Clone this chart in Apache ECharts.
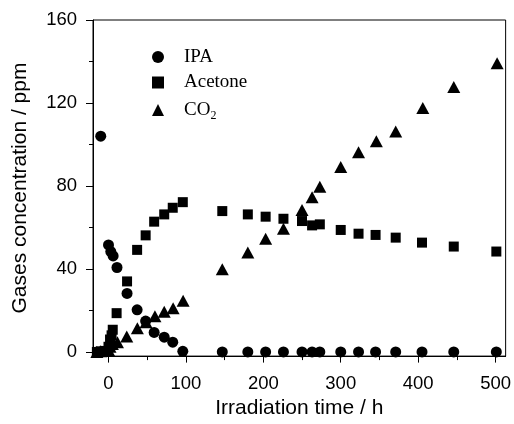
<!DOCTYPE html>
<html>
<head>
<meta charset="utf-8">
<script src="https://cdn.jsdelivr.net/npm/echarts@6/dist/echarts.min.js"></script>
<style>html,body{margin:0;padding:0;background:#fff}#c{width:514px;height:424px}</style>
</head>
<body>
<div id="c"></div>
<script>
// ---- data ----
const ipaTime = [-10, 0, 3, 6, 11, 24, 37, 48, 59, 72, 83, 96, 147, 180, 203, 226, 250, 263, 273, 300, 323, 345, 371, 405, 446, 501];
const ipaConc = [104, 51.6, 48.4, 46.3, 40.7, 28.2, 20.3, 14.9, 9.4, 7.1, 4.7, 0.3, 0, 0, 0, 0, 0, 0, 0, 0, 0, 0, 0, 0, 0, 0];

const acetoneTime = [-15, -10, -5, 0, 2, 4, 5.5, 10.5, 24, 37, 48, 59, 72, 83, 96, 147, 180, 203, 226, 250, 263, 273, 300, 323, 345, 371, 405, 446, 501];
const acetoneConc = [0, 0.3, 0.5, 2.5, 6, 8, 10.7, 18.7, 34, 49.2, 56.2, 62.8, 66.3, 69.5, 72.2, 67.9, 66.3, 65.2, 64.2, 63.1, 61, 61.5, 58.8, 57, 56.4, 55.1, 52.7, 50.8, 48.4];

const co2Time = [-15, -10, -5, 0, 2, 5, 11.6, 23.6, 37.3, 48.5, 60, 72, 83.5, 96.4, 147, 180, 203, 226, 250, 263, 273, 300, 323, 346, 371, 406, 446, 502];
const co2Conc = [0, 0.3, 0.5, 1, 2.5, 3.8, 4.7, 7.5, 11.4, 14.3, 17.2, 19.4, 21.1, 24.7, 39.9, 47.9, 54.6, 59.4, 68.4, 74.6, 79.6, 89.2, 96.3, 101.5, 106.3, 117.6, 127.7, 139.2];

const xMajorTicks = [0, 100, 200, 300, 400, 500];
const xMinorTicks = [50, 150, 250, 350, 450];
const yMajorTicks = [0, 40, 80, 120, 160];
const yMinorTicks = [20, 60, 100, 140];

const seriesNames = ['IPA', 'Acetone', 'CO2'];

const zip = (a, b) => a.map((v, i) => [v, b[i]]);

const chart = echarts.init(document.getElementById('c'), null, {renderer: 'canvas'});
const sans = 'Liberation Sans, Arial, sans-serif';
const serif = 'Liberation Serif, Times New Roman, serif';

const option = {
  backgroundColor: '#fff',
  animation: false,
  grid: {left: 93, right: 6, top: 20, bottom: 67, show: true, borderColor: '#000', borderWidth: 1, backgroundColor: 'transparent'},
  legend: {
    orient: 'vertical', left: 147, top: 42,
    itemWidth: 12, itemHeight: 12, itemGap: 5.5,
    data: [
      {name: 'IPA', icon: 'circle'},
      {name: 'Acetone', icon: 'rect'},
      {name: 'CO2', icon: 'triangle'}
    ],
    formatter: function (n) { return n === 'CO2' ? '{n|CO}{s|2}' : '{n|' + n + '}'; },
    textStyle: {
      color: '#000', fontFamily: serif, fontSize: 19, lineHeight: 20, padding: [0, 0, 0, 15],
      rich: {
        n: {fontFamily: serif, fontSize: 19, color: '#000', lineHeight: 20},
        s: {fontFamily: serif, fontSize: 12, color: '#000', lineHeight: 20, padding: [12, 0, 0, 0]}
      }
    }
  },
  xAxis: [
    {
      type: 'value', min: -20, max: 513, splitLine: {show: false},
      axisLine: {show: true, onZero: false, lineStyle: {color: '#000', width: 1}},
      name: 'Irradiation time / h', nameLocation: 'middle', nameGap: 40,
      nameTextStyle: {fontFamily: sans, fontSize: 21, color: '#000'},
      axisTick: {show: true, inside: false, length: 6.5, customValues: xMajorTicks, lineStyle: {color: '#000'}},
      axisLabel: {show: true, customValues: xMajorTicks, margin: 18, fontFamily: sans, fontSize: 18.5, color: '#000'}
    },
    {
      type: 'value', min: -20, max: 513, position: 'bottom', splitLine: {show: false},
      axisLine: {show: false, onZero: false},
      axisTick: {show: true, inside: false, length: 4, customValues: xMinorTicks, lineStyle: {color: '#000'}},
      axisLabel: {show: false}
    }
  ],
  yAxis: [
    {
      type: 'value', min: -2, max: 160, splitLine: {show: false},
      axisLine: {show: true, onZero: false, lineStyle: {color: '#000', width: 1}},
      name: 'Gases concentration / ppm', nameLocation: 'middle', nameGap: 62, nameRotate: 90,
      nameTextStyle: {fontFamily: sans, fontSize: 21, color: '#000'},
      axisTick: {show: true, inside: false, length: 7, customValues: yMajorTicks, lineStyle: {color: '#000'}},
      axisLabel: {show: true, customValues: yMajorTicks, margin: 16, fontFamily: sans, fontSize: 18.5, color: '#000'}
    },
    {
      type: 'value', min: -2, max: 160, position: 'left', splitLine: {show: false},
      axisLine: {show: false, onZero: false},
      axisTick: {show: true, inside: false, length: 4, customValues: yMinorTicks, lineStyle: {color: '#000'}},
      axisLabel: {show: false}
    }
  ],
  series: [
    {name: seriesNames[0], type: 'scatter', symbol: 'circle', symbolSize: 11, data: zip(ipaTime, ipaConc), itemStyle: {color: '#000', opacity: 1}},
    {name: seriesNames[1], type: 'scatter', symbol: 'rect', symbolSize: 10, data: zip(acetoneTime, acetoneConc), itemStyle: {color: '#000', opacity: 1}},
    {name: seriesNames[2], type: 'scatter', symbol: 'triangle', symbolSize: [13, 12], data: zip(co2Time, co2Conc), itemStyle: {color: '#000', opacity: 1}}
  ]
};
chart.setOption(option);
</script>
</body>
</html>
